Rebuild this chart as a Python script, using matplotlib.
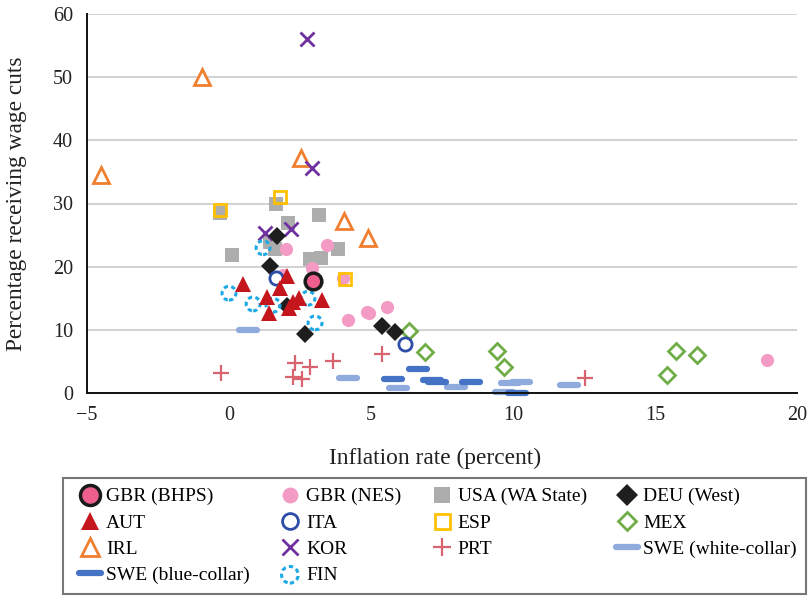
import matplotlib
matplotlib.use("Agg")
import matplotlib.pyplot as plt
from matplotlib.markers import MarkerStyle

plt.rcParams['font.family'] = ['Liberation Serif', 'DejaVu Serif']
plt.rcParams['font.size'] = 14

# --- data (inflation %, share with wage cuts %) ---
gbr_bhps_x = [2.96]
gbr_bhps_y = [17.7]

gbr_nes_x = [2.0, 3.45, 2.93, 1.9, 4.01, 4.93, 4.19, 4.86, 5.56, 18.94]
gbr_nes_y = [22.8, 23.4, 19.8, 18.7, 18.2, 12.7, 11.6, 12.8, 13.6, 5.2]

usa_x = [-0.32, 1.65, 3.17, 2.08, 0.1, 1.44, 1.62, 2.85, 3.24, 3.84]
usa_y = [28.5, 29.9, 28.2, 26.9, 21.9, 23.9, 22.8, 21.2, 21.4, 22.8]

deu_x = [1.69, 1.44, 2.04, 2.68, 5.39, 5.85]
deu_y = [24.9, 20.1, 13.8, 9.3, 10.6, 9.6]

aut_x = [0.49, 2.04, 1.8, 1.34, 1.41, 2.25, 2.46, 2.11, 3.27]
aut_y = [17.3, 18.5, 16.6, 15.2, 12.7, 14.4, 15.0, 13.5, 14.7]

ita_x = [1.65, 6.2]
ita_y = [18.2, 7.8]

esp_x = [-0.32, 1.8, 4.08]
esp_y = [29.0, 31.0, 18.0]

mex_x = [6.34, 6.9, 9.44, 9.68, 15.42, 15.74, 16.48]
mex_y = [9.8, 6.5, 6.6, 4.1, 2.8, 6.6, 6.0]

irl_x = [-4.51, -0.95, 2.54, 4.05, 4.89]
irl_y = [34.5, 50.0, 37.2, 27.2, 24.5]

kor_x = [2.75, 2.92, 1.27, 2.18]
kor_y = [56.0, 35.6, 25.3, 26.0]

prt_x = [-0.28, 2.32, 2.85, 3.66, 2.25, 2.57, 5.39, 12.54]
prt_y = [3.2, 4.7, 4.1, 5.1, 2.5, 2.2, 6.2, 2.4]

swe_white_x = [0.67, 4.19, 5.95, 7.99, 9.89, 10.28, 9.68, 11.97]
swe_white_y = [10.0, 2.3, 0.8, 1.0, 1.6, 1.8, 0.15, 1.3]

swe_blue_x = [5.78, 6.65, 7.14, 7.32, 8.52, 10.14]
swe_blue_y = [2.2, 3.8, 2.1, 1.8, 1.8, 0.0]

fin_x = [1.2, 0.0, 0.85, 1.55, 2.78, 3.03]
fin_y = [23.0, 15.8, 14.1, 13.9, 15.0, 11.1]

fig = plt.figure(figsize=(8.1, 5.97), dpi=100)
ax = fig.add_axes([87 / 810, 1 - 393 / 597, 710 / 810, 379 / 597])

dash = MarkerStyle('_', capstyle='round')
kw = dict(linestyle='none', clip_on=False)

h = {}
h['SWE (white-collar)'], = ax.plot(swe_white_x, swe_white_y, marker=dash, ms=13, mew=4.5,
                                   color='#8FAADC', **kw)
h['SWE (blue-collar)'], = ax.plot(swe_blue_x, swe_blue_y, marker=dash, ms=13, mew=4.5,
                                  color='#4472C4', **kw)
h['PRT'], = ax.plot(prt_x, prt_y, marker='+', ms=11, mew=1.6, color='#D9636E', **kw)
h['MEX'], = ax.plot(mex_x, mex_y, marker='D', ms=8, mew=2, mfc='white', mec='#70AD47', **kw)
h['USA (WA State)'], = ax.plot(usa_x, usa_y, marker='s', ms=9.5, mew=0, color='#ADADAD', **kw)
h['GBR (NES)'], = ax.plot(gbr_nes_x, gbr_nes_y, marker='o', ms=9.5, mew=0, color='#F39BC4', **kw)
h['ESP'], = ax.plot(esp_x, esp_y, marker='s', ms=9, mew=2, mfc='none', mec='#FFC000', **kw)
h['IRL'], = ax.plot(irl_x, irl_y, marker='^', ms=11, mew=2, mfc='white', mec='#F07F2F', **kw)
h['KOR'], = ax.plot(kor_x, kor_y, marker='x', ms=10, mew=2, color='#7030A0', **kw)
h['DEU (West)'], = ax.plot(deu_x, deu_y, marker='D', ms=9, mew=0, color='#1E1E1E', **kw)
h['ITA'], = ax.plot(ita_x, ita_y, marker='o', ms=9.5, mew=2, mfc='white', mec='#2E4DA7', **kw)
h['FIN'] = ax.scatter(fin_x, fin_y, s=100, facecolors='none', edgecolors='#1DA9E5',
                      linewidths=2.2, linestyles=(0, (1.4, 1.1)), clip_on=False, zorder=2)
h['AUT'], = ax.plot(aut_x, aut_y, marker='^', ms=11, mew=0, color='#C4161C', **kw)
h['GBR (BHPS)'], = ax.plot(gbr_bhps_x, gbr_bhps_y, marker='o', ms=12, mew=2.5,
                           mfc='#EE5F8E', mec='#1A1A1A', **kw)

ax.set_xlim(-5, 20)
ax.set_ylim(0, 60)
ax.set_xticks([-5, 0, 5, 10, 15, 20])
ax.set_yticks([0, 10, 20, 30, 40, 50, 60])
ax.yaxis.grid(True, color='#CFCFCF', linewidth=1.3)
ax.set_axisbelow(True)
for s in ['top', 'right']:
    ax.spines[s].set_visible(False)
for s in ['left', 'bottom']:
    ax.spines[s].set_linewidth(1.4)
    ax.spines[s].set_color('#111111')
ax.tick_params(length=0, labelsize=14.5, colors='#222222')
ax.tick_params(axis='x', pad=9.5)
ax.tick_params(axis='y', pad=10)

ax.set_xlabel('Inflation rate (percent)', fontsize=16.8, color='#222222')
ax.set_ylabel('Percentage receiving wage cuts', fontsize=16.8, color='#222222')
ax.xaxis.set_label_coords(0.49, -0.172)
ax.xaxis.label.set_va('center')
ax.yaxis.set_label_coords(-0.099, 0.5)
ax.yaxis.label.set_va('center')

# legend reads row by row in the reference; matplotlib fills columns
order = ['GBR (BHPS)', 'AUT', 'IRL', 'SWE (blue-collar)',
         'GBR (NES)', 'ITA', 'KOR', 'FIN',
         'USA (WA State)', 'ESP', 'PRT',
         'DEU (West)', 'MEX', 'SWE (white-collar)']
leg = fig.legend([h[k] for k in order], order, ncol=4, loc='upper left',
                 bbox_to_anchor=(63 / 810, 1 - 478 / 597), borderaxespad=0,
                 frameon=True, fancybox=False, fontsize=14, handlelength=1.75,
                 handletextpad=-0.05, columnspacing=1.2, labelspacing=0.44,
                 borderpad=0.5, scatterpoints=1, markerscale=1.2)
leg.get_frame().set_edgecolor('#555555')
leg.get_frame().set_linewidth(1.5)

fig.savefig('out.png', dpi=100)
